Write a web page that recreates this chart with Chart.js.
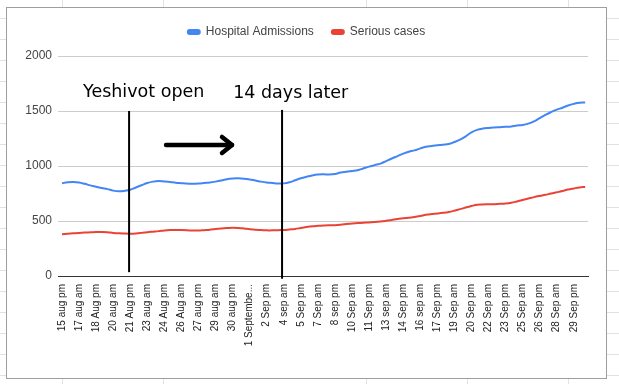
<!DOCTYPE html>
<html>
<head>
<meta charset="utf-8">
<script src="https://cdn.jsdelivr.net/npm/chart.js@4.4.0/dist/chart.umd.min.js"></script>
<style>
body{margin:0;width:619px;height:384px;overflow:hidden;position:relative;background:#fff;
  background-image:repeating-linear-gradient(to bottom,transparent 0,transparent 18px,#e2e2e2 18px,#e2e2e2 19px,transparent 19px,transparent 21px);}
.col{position:absolute;top:0;width:1px;height:384px;background:#e2e2e2;}
#box{position:absolute;left:6px;top:7px;width:599px;height:370px;border:1px solid #9e9e9e;background:#fff;}
canvas{display:block;}
</style>
</head>
<body>
<div class="col" style="left:62px"></div>
<div class="col" style="left:163px"></div>
<div class="col" style="left:366px"></div>
<div class="col" style="left:467px"></div>
<div class="col" style="left:568px"></div>
<div id="box"><canvas id="myChart" width="599" height="370"></canvas></div>
<script>
// one label shown for every 3rd reading (readings are twice a day)
const tickLabels=["15 aug pm","17 aug am","18 Aug pm","20 aug am","21 Aug pm","23 aug am","24 Aug pm",
  "26 Aug am","27 aug pm","29 aug am","30 aug pm","1 Septembe...","2 Sep pm","4 sep am","5 Sep pm",
  "7 Sep am","8 sep pm","10 Sep am","11 Sep pm","13 sep am","14 Sep pm","16 sep am","17 Sep pm",
  "19 Sep am","20 Sep pm","22 Sep am","23 Sep pm","25 Sep am","26 Sep pm","28 Sep am","29 Sep pm"];
const labelEvery=3;

const hospital=[843,852,855,850,838,824,812,800,790,776,770,774,784,805,825,845,858,864,860,855,
  848,844,840,838,840,845,850,858,868,880,886,888,885,878,868,858,850,845,840,842,
  852,870,888,902,914,922,924,923,928,940,948,955,962,978,994,1008,1022,1045,1068,1090,
  1112,1130,1142,1160,1175,1182,1188,1194,1200,1218,1240,1270,1305,1328,1340,1346,1350,1353,1356,1360,
  1368,1373,1385,1405,1435,1465,1490,1512,1530,1550,1565,1576,1578];
const serious=[380,384,388,392,395,397,399,400,398,392,388,386,385,387,392,398,403,408,414,418,
  419,418,416,413,413,417,421,427,432,436,439,437,432,426,421,418,415,415,417,418,
  423,428,437,445,452,456,459,461,462,466,472,478,481,484,487,490,495,502,510,518,
  524,530,536,545,556,563,568,574,582,594,608,622,636,648,651,652,653,656,659,666,
  678,691,704,717,728,738,750,761,772,786,796,805,810];

// hand drawn notes on top of the chart (in data units)
const markLines=[{at:11.8,top:1500,bottom:35},{at:38.7,top:1510,bottom:-25}];
const markTexts=[{text:"Yeshivot open",x:3.7,y:1627},{text:"14 days later",x:30.1,y:1618}];
const arrow={from:18.3,to:29.9,y:1191};

const notes={
  id:'notes',
  afterInit(chart){
    var fit=chart.legend.fit;
    chart.legend.fit=function(){ fit.call(this); this.height=48; };
  },
  afterLayout(chart){
    // legend is centred on the whole box, not on the padded part
    chart.legend.left+=9;
    chart.legend.right+=9;
  },
  afterDatasetsDraw(chart){
    var c=chart.ctx, xs=chart.scales.x, ys=chart.scales.y;
    c.save();
    c.strokeStyle='#000'; c.fillStyle='#000';
    c.lineWidth=2;
    markLines.forEach(m=>{
      var x=xs.getPixelForValue(m.at);
      c.beginPath();
      c.moveTo(x,ys.getPixelForValue(m.top));
      c.lineTo(x,ys.getPixelForValue(m.bottom));
      c.stroke();
    });
    c.font='17.5px "DejaVu Sans"';
    c.textBaseline='alphabetic';
    markTexts.forEach(t=>c.fillText(t.text,xs.getPixelForValue(t.x),ys.getPixelForValue(t.y)));
    var x0=xs.getPixelForValue(arrow.from), x1=xs.getPixelForValue(arrow.to), y=ys.getPixelForValue(arrow.y);
    c.lineWidth=4.5; c.lineCap='round'; c.lineJoin='round';
    c.beginPath(); c.moveTo(x0,y); c.lineTo(x1,y); c.stroke();
    c.beginPath(); c.moveTo(x1-10,y-8); c.lineTo(x1,y); c.lineTo(x1-10,y+8); c.stroke();
    c.restore();
  }
};

Chart.defaults.font.family="Arial, 'Liberation Sans', sans-serif";

var ctx=document.getElementById('myChart');
var lchart=new Chart(ctx,{
  type:'line',
  data:{
    datasets:[{
      label:'Hospital Admissions',
      data:hospital.map((v,i)=>({x:i,y:v})),
      borderColor:'#4285f4',
      backgroundColor:'#4285f4',
      borderWidth:2,
      pointRadius:0,
      tension:0.4
    },{
      label:'Serious cases',
      data:serious.map((v,i)=>({x:i,y:v})),
      borderColor:'#ea4335',
      backgroundColor:'#ea4335',
      borderWidth:2,
      pointRadius:0,
      tension:0.4
    }]
  },
  options:{
    responsive:false,
    animation:false,
    devicePixelRatio:1,
    layout:{padding:{left:0,right:18,top:0,bottom:0}},
    plugins:{
      legend:{
        position:'top',
        labels:{boxWidth:12,boxHeight:4,padding:18,color:'#444',font:{size:12},useBorderRadius:true,borderRadius:2}
      },
      tooltip:{enabled:false}
    },
    scales:{
      x:{
        type:'linear',
        min:-0.7,
        max:hospital.length-0.5,
        afterFit:(s)=>{ s.height=102; },
        afterBuildTicks:(s)=>{ s.ticks=tickLabels.map((t,i)=>({value:i*labelEvery})); },
        grid:{display:false,drawTicks:false},
        border:{display:true,color:'#333',width:1},
        ticks:{
          autoSkip:false,minRotation:90,maxRotation:90,padding:8,
          color:'#222',font:{size:10},
          callback:(v)=>tickLabels[v/labelEvery]
        }
      },
      y:{
        min:0,max:2000,
        afterFit:(s)=>{ s.width=51; },
        grid:{color:(c)=>c.tick && c.tick.value===0?'#333':'#ccc',drawTicks:false},
        border:{display:false},
        ticks:{stepSize:500,padding:6,color:'#444',font:{size:12},callback:(v)=>String(v)}
      }
    }
  },
  plugins:[notes]
});
</script>
</body>
</html>
